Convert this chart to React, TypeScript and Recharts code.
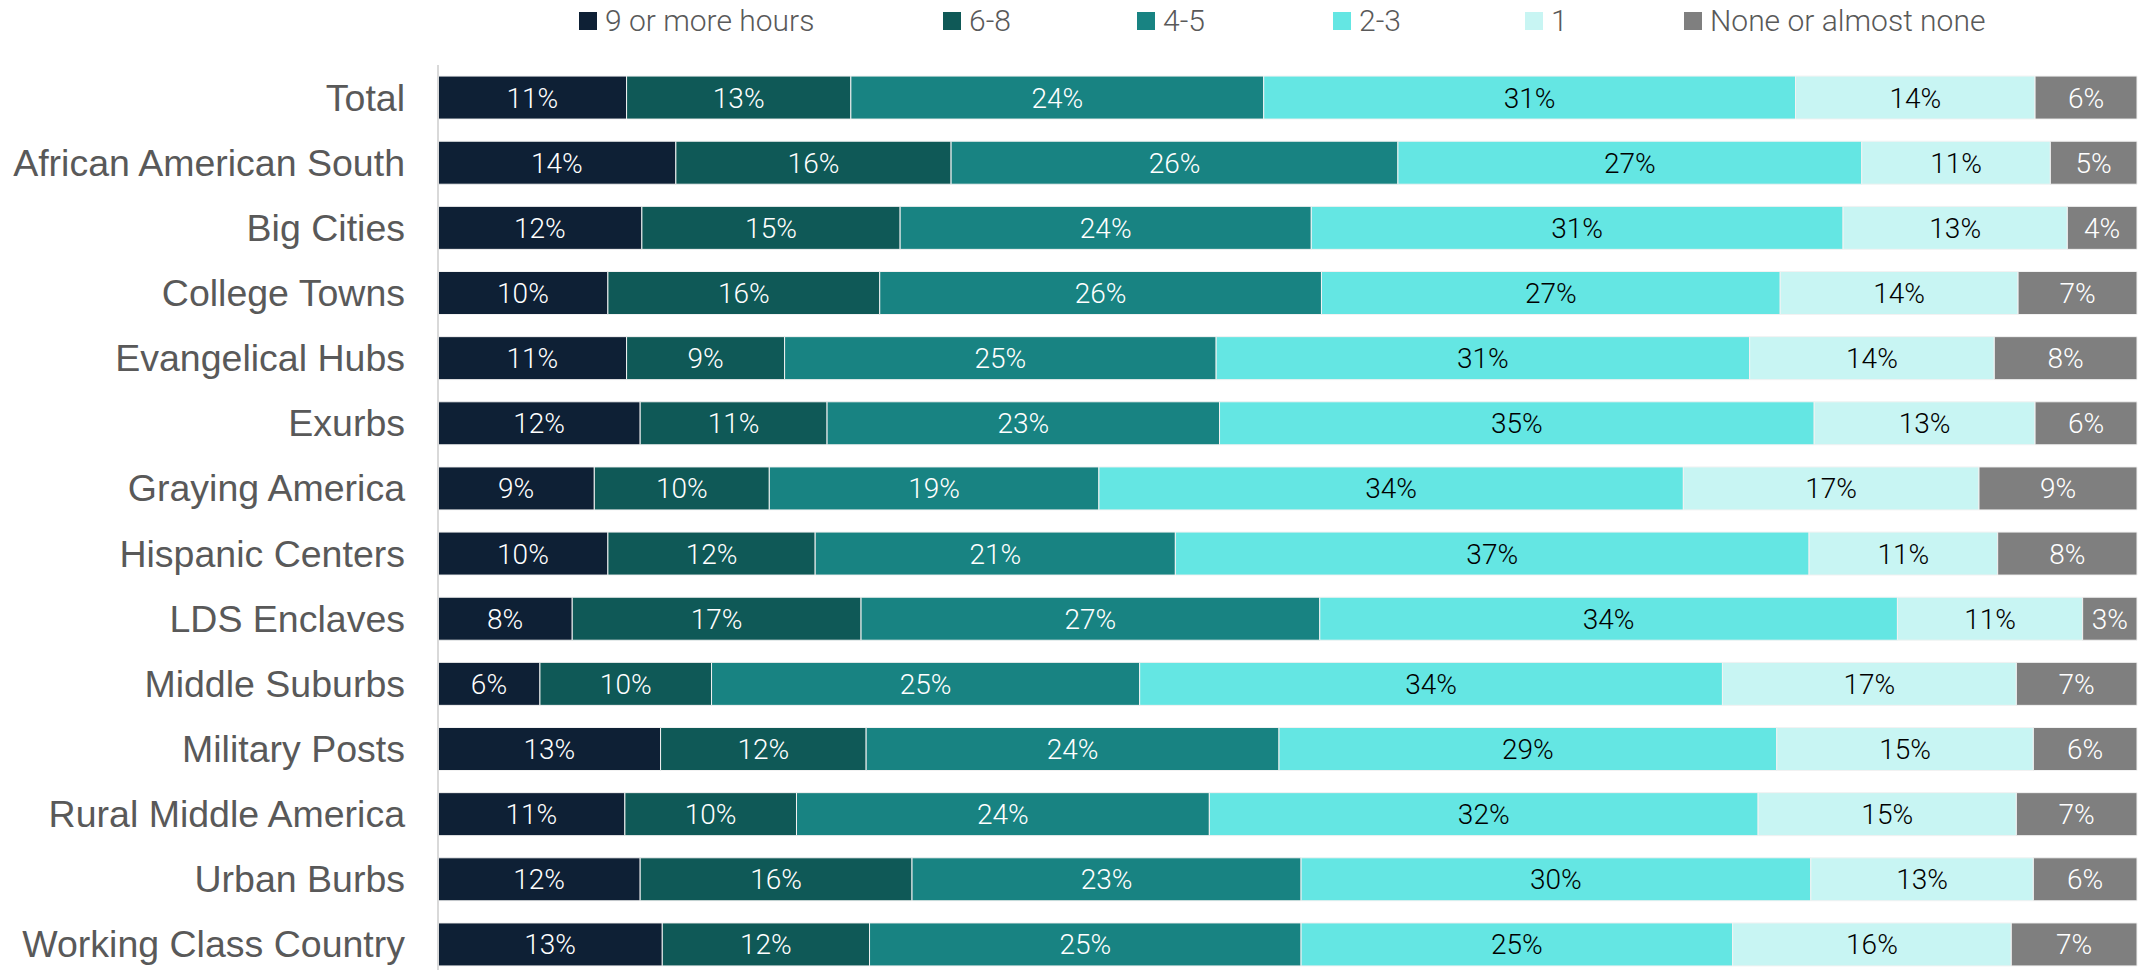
import { BarChart, Bar, XAxis, YAxis, Legend, LabelList } from "recharts";

// === Data (percent of respondents) ===
const communities = [
  "Total",
  "African American South",
  "Big Cities",
  "College Towns",
  "Evangelical Hubs",
  "Exurbs",
  "Graying America",
  "Hispanic Centers",
  "LDS Enclaves",
  "Middle Suburbs",
  "Military Posts",
  "Rural Middle America",
  "Urban Burbs",
  "Working Class Country",
];

const nineOrMore = [11.1, 14.0, 12.0, 10.0, 11.1, 11.9, 9.2, 10.0, 7.9, 6.0, 13.1, 11.0, 11.9, 13.2];
const sixToEight = [13.2, 16.2, 15.2, 16.0, 9.3, 11.0, 10.3, 12.2, 17.0, 10.1, 12.1, 10.1, 16.0, 12.2];
const fourToFive = [24.3, 26.3, 24.2, 26.0, 25.4, 23.1, 19.4, 21.2, 27.0, 25.2, 24.3, 24.3, 22.9, 25.4];
const twoToThree = [31.3, 27.3, 31.3, 27.0, 31.4, 35.0, 34.4, 37.3, 34.0, 34.3, 29.3, 32.3, 30.0, 25.4];
const one = [14.1, 11.1, 13.2, 14.0, 14.4, 13.0, 17.4, 11.1, 10.9, 17.3, 15.1, 15.2, 13.1, 16.4];
const noneOrAlmost = [6.0, 5.1, 4.1, 7.0, 8.4, 6.0, 9.3, 8.2, 3.2, 7.1, 6.1, 7.1, 6.1, 7.4];

const SERIES = [
  { key: "nine", name: "9 or more hours", values: nineOrMore, color: "#0E2035", text: "#FFFFFF" },
  { key: "six", name: "6-8", values: sixToEight, color: "#0F5957", text: "#FFFFFF" },
  { key: "four", name: "4-5", values: fourToFive, color: "#188382", text: "#FFFFFF" },
  { key: "two", name: "2-3", values: twoToThree, color: "#64E6E3", text: "#000000" },
  { key: "one", name: "1", values: one, color: "#C8F5F3", text: "#000000" },
  { key: "none", name: "None or almost none", values: noneOrAlmost, color: "#7F7F7F", text: "#FFFFFF" },
];

const data = communities.map((c, i) => {
  const row: any = { name: c };
  SERIES.forEach((s) => (row[s.key] = s.values[i]));
  return row;
});

// === Layout ===
const W = 2148;
const H = 980;
const PLOT_LEFT = 438;
const LEGEND_X = [579, 943, 1137, 1333, 1525, 1684];
const LABEL_FONT = "Roboto, 'Noto Sans', sans-serif";

function CategoryTick(props: any) {
  const { y, payload } = props;
  return (
    <text
      x={PLOT_LEFT - 33}
      y={y}
      dy={13}
      textAnchor="end"
      fill="#595959"
      fontSize={37.5}
      fontFamily="'Liberation Sans', Arial, sans-serif"
    >
      {payload.value}
    </text>
  );
}

function TopLegend() {
  return (
    <div style={{ position: "absolute", left: 0, top: 0, width: W, height: 50 }}>
      {SERIES.map((s, i) => (
        <div
          key={s.key}
          style={{
            position: "absolute",
            left: LEGEND_X[i],
            top: 3,
            display: "flex",
            alignItems: "center",
            fontFamily: LABEL_FONT,
            fontWeight: 300,
            fontSize: 30,
            color: "#595959",
            whiteSpace: "nowrap",
          }}
        >
          <span style={{ width: 18, height: 18, background: s.color, marginRight: 8, display: "inline-block" }} />
          {s.name}
        </div>
      ))}
    </div>
  );
}

export default function App() {
  return (
    <div style={{ position: "absolute", left: 0, top: 0, width: W, height: H, background: "#fff" }}>
      <style>{"body{margin:0}"}</style>
      <BarChart
        width={W}
        height={H}
        data={data}
        layout="vertical"
        margin={{ top: 65, right: 11, bottom: 3, left: 0 }}
        barCategoryGap="17%"
      >
        <XAxis type="number" domain={[0, 100]} hide />
        <YAxis
          type="category"
          dataKey="name"
          width={PLOT_LEFT}
          axisLine={{ stroke: "#D9D9D9", strokeWidth: 2 }}
          tickLine={false}
          interval={0}
          tick={<CategoryTick />}
        />
        <Legend verticalAlign="top" content={() => null} />
        {SERIES.map((s) => (
          <Bar
            key={s.key}
            dataKey={s.key}
            name={s.name}
            stackId="a"
            fill={s.color}
            stroke="#F2F2F2"
            strokeWidth={1}
            isAnimationActive={false}
          >
            <LabelList
              dataKey={s.key}
              position="center"
              fill={s.text}
              fontSize={28}
              fontFamily={LABEL_FONT}
              fontWeight={300}
              formatter={(v: any) => `${Math.round(Number(v))}%`}
            />
          </Bar>
        ))}
      </BarChart>
      <TopLegend />
    </div>
  );
}
